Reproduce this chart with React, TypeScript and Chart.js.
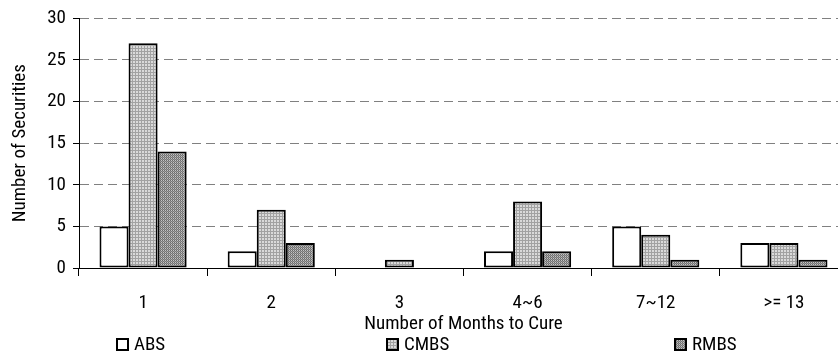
import React, { useEffect, useRef } from "react";
import { Chart, registerables } from "chart.js";

Chart.register(...registerables);

const categories = ["1", "2", "3", "4~6", "7~12", ">= 13"];
const absValues = [5, 2, 0, 2, 5, 3];
const cmbsValues = [27, 7, 1, 8, 4, 3];
const rmbsValues = [14, 3, 0, 2, 1, 1];
const seriesNames = ["ABS", "CMBS", "RMBS"];
const yTitle = "Number of Securities";
const xTitle = "Number of Months to Cure";

const FONT = "'Roboto Condensed', 'Liberation Sans', sans-serif";

function makePattern(ctx: CanvasRenderingContext2D, size: number, pixels: string[][]) {
  const c = document.createElement("canvas");
  c.width = size;
  c.height = size;
  const t = c.getContext("2d")!;
  for (let y = 0; y < size; y++) {
    for (let x = 0; x < size; x++) {
      t.fillStyle = pixels[y][x];
      t.fillRect(x, y, 1, 1);
    }
  }
  return ctx.createPattern(c, "repeat")!;
}

export default function App() {
  const ref = useRef<HTMLCanvasElement>(null);
  useEffect(() => {
    const canvas = ref.current!;
    const ctx = canvas.getContext("2d")!;
    const L = "#dadada";
    const G = "#a2a2a2";
    const cmbsPat = makePattern(ctx, 3, [
      [G, G, G],
      [G, L, L],
      [G, L, L],
    ]);
    const rmbsPat = makePattern(ctx, 2, [
      ["#6a6a6a", "#c4c4c4"],
      ["#9a9a9a", "#787878"],
    ]);
    const fills = ["#ffffff", cmbsPat, rmbsPat];

    const customText = {
      id: "customText",
      afterDraw(chart: any) {
        const c = chart.ctx;
        const area = chart.chartArea;
        c.save();
        c.fillStyle = "#000";
        c.font = `19px ${FONT}`;
        c.textBaseline = "middle";
        c.textAlign = "center";
        c.fillText(xTitle, (area.left + area.right) / 2, 324);
        c.save();
        c.translate(20, (area.top + area.bottom) / 2);
        c.rotate(-Math.PI / 2);
        c.fillText(yTitle, 0, 0);
        c.restore();
        const boxXs = [116, 386, 674];
        c.textAlign = "left";
        for (let i = 0; i < 3; i++) {
          const bx = boxXs[i];
          c.fillStyle = fills[i] as any;
          c.fillRect(bx, 338, 13, 13);
          c.strokeStyle = "#000";
          c.lineWidth = 2;
          c.strokeRect(bx + 1, 339, 11, 11);
          c.fillStyle = "#000";
          c.fillText(seriesNames[i], bx + 18, 345);
        }
        c.restore();
      },
    };

    const chart = new Chart(canvas, {
      type: "bar",
      data: {
        labels: categories,
        datasets: [absValues, cmbsValues, rmbsValues].map((d, i) => ({
          label: seriesNames[i],
          data: d,
          backgroundColor: fills[i] as any,
          borderColor: "#000",
          borderWidth: 2,
          borderSkipped: false,
          categoryPercentage: 0.68,
          barPercentage: 1,
        })),
      },
      options: {
        responsive: false,
        animation: false,
        devicePixelRatio: 1,
        layout: { padding: { top: 18, right: 0, left: 0, bottom: 0 } },
        plugins: { legend: { display: false }, tooltip: { enabled: false } },
        scales: {
          x: {
            grid: {
              offset: true,
              drawOnChartArea: false,
              drawTicks: true,
              tickLength: 8,
              tickColor: "#000",
              tickWidth: 1,
            },
            border: { color: "#000", width: 1 },
            ticks: { color: "#000", font: { family: FONT, size: 19 }, padding: 16, maxRotation: 0 },
            afterFit: (s: any) => {
              s.height = 85;
            },
          },
          y: {
            min: 0,
            max: 30,
            ticks: { stepSize: 5, color: "#000", font: { family: FONT, size: 19 }, padding: 7 },
            grid: {
              color: "#808080",
              lineWidth: 1,
              tickLength: 6,
              tickColor: "#000",
              tickBorderDash: [],
            },
            border: { color: "#000", width: 1, dash: [9, 5] },
            afterFit: (s: any) => {
              s.width = 79;
            },
          },
        },
      },
      plugins: [customText],
    });
    return () => chart.destroy();
  }, []);
  return (
    <div style={{ position: "fixed", left: 0, top: 0, width: 838, height: 353, overflow: "hidden", background: "#fff" }}>
      <canvas ref={ref} width={848} height={353} style={{ display: "block" }} />
    </div>
  );
}
